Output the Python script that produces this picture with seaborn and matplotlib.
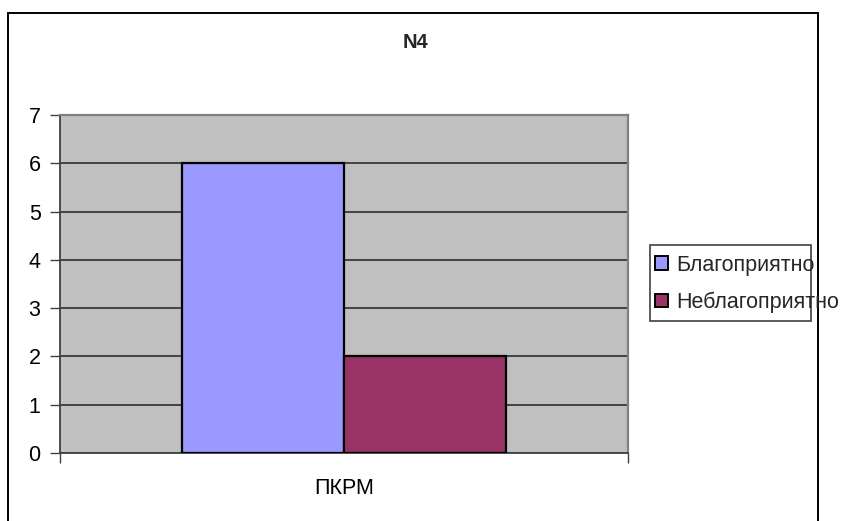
import numpy as np
import pandas as pd
import matplotlib
matplotlib.use("Agg")
import matplotlib.pyplot as plt
from matplotlib.patches import Rectangle
import seaborn as sns

# chart data
categories = ["ПКРМ"]
series_names = ["Благоприятно", "Неблагоприятно"]
series_values = [6, 2]
y_ticks = [0, 1, 2, 3, 4, 5, 6, 7]
title = "N4"

COLORS = {"Благоприятно": "#9999FF", "Неблагоприятно": "#993366"}
FS = 15.5

sns.set_theme(style="white")
plt.rcParams["font.family"] = ["Liberation Sans", "DejaVu Sans"]

df = pd.DataFrame({
    "category": categories * len(series_names),
    "series": series_names,
    "value": series_values,
})

fig = plt.figure(figsize=(8.41, 5.21), dpi=100, facecolor="white")
W, H = 841, 521
ax = fig.add_axes([60 / W, 1 - 453 / H, 568 / W, 338 / H])
ax.set_facecolor("#C0C0C0")

sns.barplot(data=df, x="category", y="value", hue="series", palette=COLORS,
            width=0.57, edgecolor="black", linewidth=1.6, saturation=1,
            legend=False, ax=ax, zorder=3)

ax.set_xlim(-0.5, 0.5)
ax.set_ylim(0, 7)
ax.set_yticks(y_ticks)
ax.yaxis.grid(True, color="#202020", linewidth=1.1, zorder=0)
ax.set_axisbelow(True)
ax.set_xlabel("")
ax.set_ylabel("")

for side in ["top", "right"]:
    ax.spines[side].set_color("#808080")
    ax.spines[side].set_linewidth(1.6)
for side in ["left", "bottom"]:
    ax.spines[side].set_color("#404040")
    ax.spines[side].set_linewidth(1.3)

ax.tick_params(axis="y", left=True, length=7, width=1, color="#404040",
               pad=7, labelsize=FS, labelcolor="black")
ax.set_xticks([0])
ax.set_xticks([-0.5, 0.5], minor=True)
ax.tick_params(axis="x", which="major", length=0, pad=18, labelsize=FS,
               labelcolor="black")
ax.tick_params(axis="x", which="minor", bottom=True, length=7, width=1,
               color="#404040")

fig.text(416 / W, 1 - 42 / H, title, ha="center", va="center",
         fontsize=14.5, fontweight="bold")

# legend
handles = [Rectangle((0, 0), 1, 1, facecolor=COLORS[s], edgecolor="black",
                     linewidth=1.4) for s in series_names]
fig.legend(handles, series_names, loc="center left",
           bbox_to_anchor=(653 / W, 1 - 284 / H), frameon=False,
           fontsize=FS, handlelength=0.6, handleheight=0.6,
           handletextpad=0.4, labelspacing=0.75, borderpad=0.1,
           borderaxespad=0)
fig.patches.append(Rectangle((650 / W, 1 - 321 / H), 161 / W, 76 / H,
                             transform=fig.transFigure, fill=False,
                             edgecolor="#404040", linewidth=1.2))

# outer chart border
fig.patches.append(Rectangle((8 / W, -0.05), 810 / W, 1.05 - 13 / H,
                             transform=fig.transFigure, fill=False,
                             edgecolor="black", linewidth=1.4))

fig.savefig("out.png", dpi=100, facecolor="white")
